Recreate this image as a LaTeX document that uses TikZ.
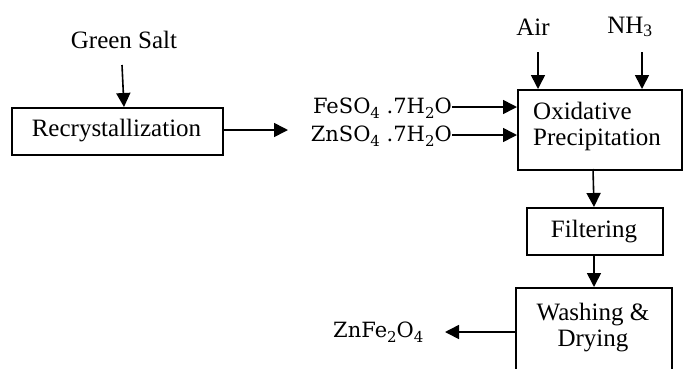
\documentclass[tikz,border=0pt]{standalone}
\usepackage{fontspec}
\setmainfont{Liberation Serif}
\newfontfamily\chemfont{DejaVu Serif}
\usetikzlibrary{arrows.meta}
\newcommand{\chsub}[1]{\raisebox{-0.22em}{\fontsize{15}{15}\selectfont #1}}
\tikzset{
  box/.style={draw, line width=1.8pt, inner sep=0pt},
  lbl/.style={inner sep=0pt, font=\fontsize{25}{30}\selectfont},
  chem/.style={inner sep=0pt, font=\chemfont\fontsize{21}{26}\selectfont},
  arr/.style={line width=1.6pt, -{Triangle[length=14pt,width=14pt]}}
}
\begin{document}
\begin{tikzpicture}[x=1pt,y=-1pt]
\useasboundingbox (0,0) rectangle (683,368);
\begin{scope}
\clip (0,0) rectangle (683,368);
% boxes
\node[box, minimum width=211pt, minimum height=47pt, anchor=north west] (rec) at (11,107) {};
\node[lbl] (rect) at (116.5,130.5) {Recrystallization};
\node[box, minimum width=164pt, minimum height=80pt, anchor=north west] (oxi) at (517,89) {};
\node[lbl, align=left, anchor=west] (oxit) at (533,126) {Oxidative\\[-4pt]Precipitation};
\node[box, minimum width=136pt, minimum height=47pt, anchor=north west] (fil) at (526,207) {};
\node[lbl] (filt) at (594,232) {Filtering};
\node[box, minimum width=156pt, minimum height=100pt, anchor=north west] (was) at (515,287) {};
\node[lbl, align=center] (wast) at (593,328) {Washing \&\\[-4pt]Drying};
% labels
\node[lbl] (gs) at (124,40) {Green Salt};
\node[lbl] (air) at (533,27) {Air};
\node[lbl] (nh3) at (630,27) {NH\textsubscript{3}};
\node[chem, anchor=east] (fe) at (452,108) {FeSO\chsub{4} .7H\chsub{2}O};
\node[chem, anchor=east] (zn) at (452,136) {ZnSO\chsub{4} .7H\chsub{2}O};
\node[chem, anchor=west] (znfe) at (333,332) {ZnFe\chsub{2}O\chsub{4}};
% arrow ends
\coordinate (gsend) at (122,65);
\coordinate (recend) at (288,130);
\coordinate (airs) at (538,52);
\coordinate (nhs) at (642,52);
\coordinate (prodend) at (445,332);
% arrows
\draw[arr] (gsend) -- (124,107);
\draw[arr] (rec.east |- recend) -- (recend);
\draw[arr] (airs) -- (airs |- oxi.north);
\draw[arr] (nhs) -- (nhs |- oxi.north);
\draw[arr] (fe.east) ++(0,-1) -- (oxi.west |- 0,107);
\draw[arr] (zn.east) ++(0,-1) -- (oxi.west |- 0,135);
\draw[arr] (593,169) -- (594,207);
\draw[arr] (fil.south -| 594,0) -- (594,287);
\draw[arr] (was.west |- prodend) -- (prodend);
\end{scope}
\end{tikzpicture}
\end{document}
